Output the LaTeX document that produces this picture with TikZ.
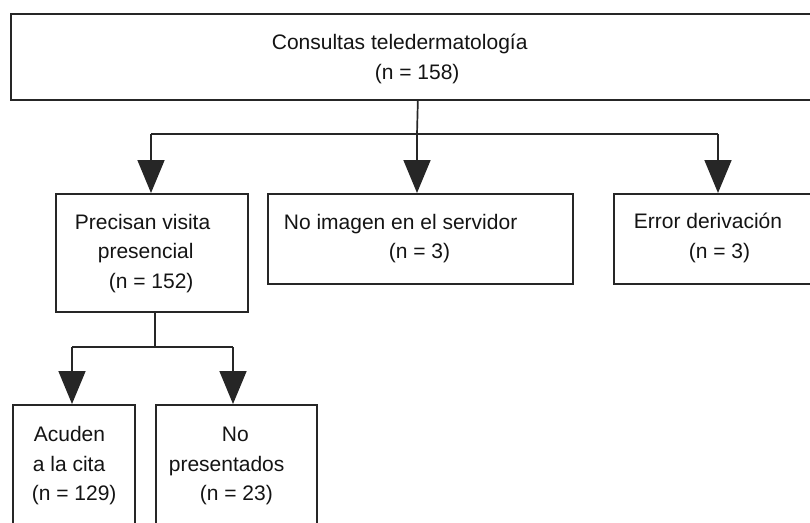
\documentclass[tikz,border=0pt]{standalone}
\usepackage{fontspec}
\setmainfont{Liberation Sans}
\usetikzlibrary{arrows.meta}
\tikzset{
    box/.style={rectangle, draw=black!85, line width=1.7pt, inner sep=0pt,
    	anchor=north west}
}
\tikzset{
    txt/.style={anchor=base west, inner sep=0pt, text=black!92,
    	font=\fontsize{21}{30}\selectfont}
}
\tikzset{
	arr/.style={-{Triangle[length=33pt,width=27pt]}}
}

\begin{document}
\begin{tikzpicture}[x=1pt,y=-1pt,line width=1.7pt,draw=black!85]
  \clip (0,0) rectangle (810,522);
  \fill[white] (0,0) rectangle (810,522);

  % boxes
  \node (top) [box, minimum width=814pt, minimum height=86pt] at (10,13) {};
  \node (vis) [box, minimum width=192pt, minimum height=118pt] at (55,193) {};
  \node (img) [box, minimum width=305pt, minimum height=90pt] at (267,193) {};
  \node (err) [box, minimum width=210pt, minimum height=90pt] at (613,193) {};
  \node (acu) [box, minimum width=122pt, minimum height=140pt] at (12,404) {};
  \node (nop) [box, minimum width=161pt, minimum height=140pt] at (155,404) {};

  % texts
  \node (top1) [txt] at (271,49) {Consultas teledermatología};
  \node (top2) [txt] at (374,79) {(n = 158)};
  \node (vis1) [txt] at (74,229) {Precisan visita};
  \node (vis2) [txt] at (97,258) {presencial};
  \node (vis3) [txt] at (108,288) {(n = 152)};
  \node (img1) [txt] at (283,229) {No imagen en el servidor};
  \node (img2) [txt] at (388,258) {(n = 3)};
  \node (err1) [txt] at (633,228) {Error derivación};
  \node (err2) [txt] at (688,258) {(n = 3)};
  \node (acu1) [txt] at (33,441) {Acuden};
  \node (acu2) [txt] at (32,471) {a la cita};
  \node (acu3) [txt] at (31,500) {(n = 129)};
  \node (nop1) [txt] at (221,441) {No};
  \node (nop2) [txt] at (168,471) {presentados};
  \node (nop3) [txt] at (199,500) {(n = 23)};

  % first split
  \coordinate (s1) at (417,134);
  \coordinate (s1l) at (151,134);
  \coordinate (s1r) at (718,134);
  \draw (top.south) -- (s1);
  \draw (s1l) -- (s1r);
  \draw[arr] (s1l) -- (s1l |- vis.north);
  \draw[arr] (s1) -- (s1 |- img.north);
  \draw[arr] (s1r) -- (s1r |- err.north);

  % second split
  \coordinate (s2) at (155,347);
  \coordinate (s2l) at (72,347);
  \coordinate (s2r) at (233,347);
  \draw (s2 |- vis.south) -- (s2);
  \draw (s2l) -- (s2r);
  \draw[arr] (s2l) -- (s2l |- acu.north);
  \draw[arr] (s2r) -- (s2r |- nop.north);
\end{tikzpicture}
\end{document}
